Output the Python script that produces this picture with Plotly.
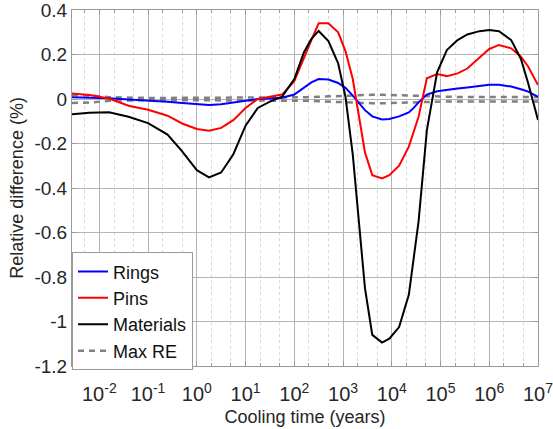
import math
import plotly.graph_objects as go

# Cooling time (years)
time_years = [2.75e-3, 6.31e-3, 1.58e-2, 3.98e-2, 0.1, 0.251, 0.501, 1.0, 1.78, 3.16,
              5.62, 10.0, 17.8, 31.6, 56.2, 100.0, 158.0, 224.0, 316.0, 501.0,
              794.0, 1122.0, 1585.0, 2239.0, 2818.0, 3981.0, 6310.0, 8913.0, 14125.0, 22387.0,
              28184.0, 35481.0, 52481.0, 85114.0, 1.349e5, 2.239e5, 3.548e5, 6.31e5, 1.0e6, 1.585e6,
              2.818e6, 4.467e6, 6.31e6, 1.0e7]

rings = [0.008, 0.007, 0.004, -0.002, -0.006, -0.012, -0.018, -0.024, -0.027, -0.024,
         -0.016, -0.007, 0.0, 0.002, 0.006, 0.02, 0.05, 0.075, 0.09, 0.088,
         0.072, 0.05, 0.015, -0.025, -0.05, -0.078, -0.092, -0.09, -0.078, -0.06,
         -0.04, -0.015, 0.02, 0.035, 0.042, 0.047, 0.052, 0.06, 0.064, 0.064,
         0.056, 0.044, 0.033, 0.01]

pins = [0.025, 0.018, 0.002, -0.03, -0.048, -0.075, -0.11, -0.135, -0.143, -0.13,
        -0.095, -0.04, 0.0, 0.01, 0.02, 0.08, 0.19, 0.265, 0.34, 0.34,
        0.30, 0.215, 0.09, -0.12, -0.24, -0.342, -0.357, -0.342, -0.30, -0.214,
        -0.15, -0.08, 0.093, 0.112, 0.103, 0.115, 0.137, 0.185, 0.225, 0.243,
        0.228, 0.19, 0.145, 0.063]

materials = [-0.068, -0.062, -0.06, -0.08, -0.108, -0.16, -0.235, -0.32, -0.352, -0.33,
             -0.248, -0.12, -0.04, -0.012, 0.01, 0.09, 0.21, 0.27, 0.306, 0.26,
             0.16, 0.01, -0.25, -0.62, -0.85, -1.06, -1.095, -1.077, -1.025, -0.88,
             -0.72, -0.55, -0.14, 0.12, 0.22, 0.265, 0.29, 0.305, 0.31, 0.305,
             0.265, 0.18, 0.07, -0.094]

maxre_upper = [0.018, 0.016, 0.008, 0.005, 0.005, 0.005, 0.005, 0.005, 0.005, 0.005,
               0.005, 0.005, 0.005, 0.005, 0.005, 0.006, 0.007, 0.008, 0.01, 0.012,
               0.014, 0.015, 0.017, 0.018, 0.019, 0.019, 0.019, 0.018, 0.017, 0.015,
               0.013, 0.012, 0.01, 0.009, 0.009, 0.009, 0.009, 0.009, 0.009, 0.009,
               0.009, 0.009, 0.009, 0.009]

maxre_lower = [-0.018, -0.016, -0.008, -0.005, -0.005, -0.005, -0.005, -0.005, -0.005, -0.005,
               -0.005, -0.005, -0.005, -0.005, -0.005, -0.006, -0.007, -0.008, -0.01, -0.012,
               -0.014, -0.015, -0.017, -0.018, -0.019, -0.019, -0.019, -0.018, -0.017, -0.015,
               -0.013, -0.012, -0.011, -0.011, -0.011, -0.011, -0.011, -0.011, -0.011, -0.011,
               -0.011, -0.011, -0.011, -0.011]

x_tickvals = [1e-2, 1e-1, 1e0, 1e1, 1e2, 1e3, 1e4, 1e5, 1e6, 1e7]
x_ticktext = ["10<sup>-2</sup>", "10<sup>-1</sup>", "10<sup>0</sup>", "10<sup>1</sup>",
              "10<sup>2</sup>", "10<sup>3</sup>", "10<sup>4</sup>", "10<sup>5</sup>",
              "10<sup>6</sup>", "10<sup>7</sup>"]
y_tickvals = [0.4, 0.2, 0.0, -0.2, -0.4, -0.6, -0.8, -1.0, -1.2]
y_ticktext = ["0.4", "0.2", "0", "-0.2", "-0.4", "-0.6", "-0.8", "-1", "-1.2"]

FONT = "Arial, Liberation Sans, sans-serif"
TXT = "#262626"
DASH = "6px,5px"
GREY = "#808080"

fig = go.Figure()
fig.add_trace(go.Scatter(x=time_years, y=maxre_upper, mode="lines", name="Max RE",
                         legendgroup="d", showlegend=False,
                         line=dict(color=GREY, width=2.5, dash=DASH)))
fig.add_trace(go.Scatter(x=time_years, y=maxre_lower, mode="lines", name="Max RE",
                         legendgroup="d", showlegend=False,
                         line=dict(color=GREY, width=2.5, dash=DASH)))
fig.add_trace(go.Scatter(x=time_years, y=rings, mode="lines", name="Rings", legendgroup="a",
                         line=dict(color="#0000ff", width=2)))
fig.add_trace(go.Scatter(x=time_years, y=pins, mode="lines", name="Pins", legendgroup="b",
                         line=dict(color="#ff0000", width=2)))
fig.add_trace(go.Scatter(x=time_years, y=materials, mode="lines", name="Materials", legendgroup="c",
                         line=dict(color="#000000", width=2)))
fig.add_trace(go.Scatter(x=[None], y=[None], mode="lines", name="Max RE", legendgroup="d",
                         line=dict(color=GREY, width=2.5, dash=DASH)))

fig.update_layout(
    width=553, height=429,
    margin=dict(l=72, r=15, t=10, b=63),
    paper_bgcolor="white", plot_bgcolor="white",
    font=dict(family=FONT, size=18, color=TXT),
    legend=dict(x=0, y=-0.012, xanchor="left", yanchor="bottom",
                bgcolor="white", bordercolor="#9a9a9a", borderwidth=1,
                font=dict(size=18, color="#111111"), tracegroupgap=0,
                itemwidth=30),
    xaxis=dict(type="log", range=[math.log10(2.75e-3), 7.0001], automargin=False,
               tickvals=x_tickvals, ticktext=x_ticktext, ticklabeloverflow="allow",
               showgrid=True, gridcolor="#b4b4b4", gridwidth=1,
               showline=True, linecolor="#9a9a9a", mirror="allticks",
               ticks="inside", ticklen=5, tickcolor="#9a9a9a",
               minor=dict(showgrid=True, gridcolor="#d8d8d8", griddash="dot",
                          ticks="inside", ticklen=3, tickcolor="#9a9a9a"),
               zeroline=False, ticklabelstandoff=10,
               title=dict(text="Cooling time (years)", standoff=6,
                          font=dict(size=18, color=TXT)),
               tickfont=dict(size=20, color=TXT)),
    yaxis=dict(range=[-1.2, 0.4001], tickvals=y_tickvals, ticktext=y_ticktext, automargin=False,
               ticklabeloverflow="allow",
               showgrid=True, gridcolor="#b4b4b4", gridwidth=1,
               showline=True, linecolor="#9a9a9a", mirror="allticks",
               ticks="inside", ticklen=5, tickcolor="#9a9a9a",
               zeroline=False,
               title=dict(text="Relative difference (%)", standoff=6,
                          font=dict(size=18, color=TXT)),
               tickfont=dict(size=19, color=TXT)),
)

fig.write_html("out.html")
